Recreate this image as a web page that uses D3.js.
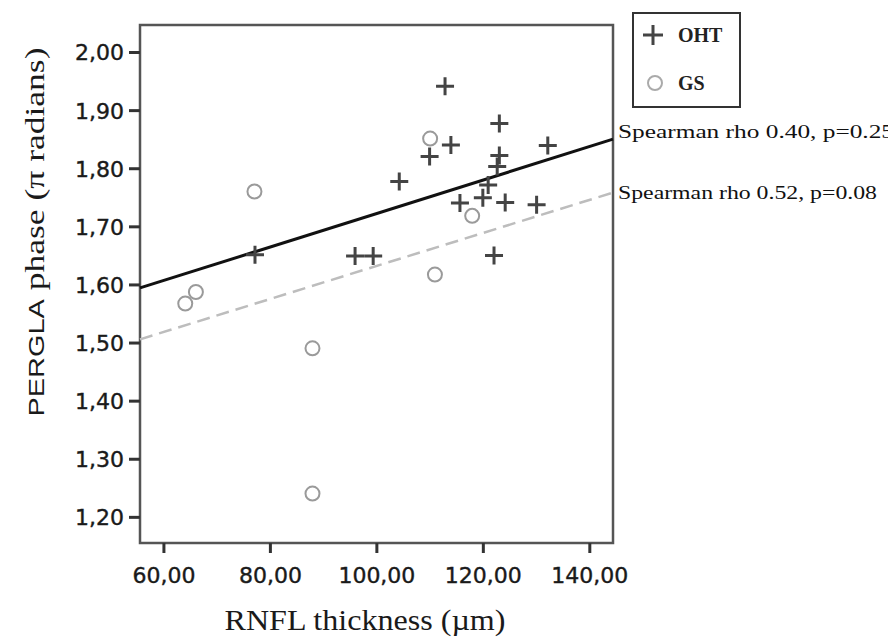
<!DOCTYPE html>
<html>
<head>
<meta charset="utf-8">
<script src="https://cdn.jsdelivr.net/npm/d3@7"></script>
<style>
  html, body { margin: 0; padding: 0; background: #fff; }
  svg { display: block; }
</style>
</head>
<body>
<script>
// ---- data ----
const ohtX = [112.9, 123.1, 114.0, 110.0, 123.1, 132.2, 122.7, 104.3, 121.0, 120.0, 115.7, 124.2, 130.1, 77.2, 96.0, 99.4, 122.1];
const ohtY = [1.941, 1.877, 1.840, 1.820, 1.822, 1.839, 1.803, 1.777, 1.771, 1.749, 1.740, 1.741, 1.737, 1.651, 1.649, 1.649, 1.650];
const gsX = [110.1, 77.1, 118.0, 111.0, 66.1, 64.1, 88.0, 88.0];
const gsY = [1.851, 1.760, 1.718, 1.617, 1.587, 1.567, 1.490, 1.240];
const fitOhtX = [55.6, 144.45];
const fitOhtY = [1.594, 1.850];
const fitGsX = [55.6, 144.45];
const fitGsY = [1.5055, 1.758];
const xTicks = [60, 80, 100, 120, 140];
const yTicks = [1.2, 1.3, 1.4, 1.5, 1.6, 1.7, 1.8, 1.9, 2.0];
const legendLabels = ["OHT", "GS"];
const annotations = ["Spearman rho 0.40, p=0.25", "Spearman rho 0.52, p=0.08"];
const xTitle = "RNFL thickness (µm)";
const yTitleA = "PERGLA";
const yTitleB = " phase (π radians)";

// ---- layout ----
const W = 888, H = 639;
const L = 140, R = 613, T = 25, B = 543;

const svg = d3.select("body").append("svg").attr("width", W).attr("height", H);

const x = d3.scaleLinear().domain([55.6, 144.45]).range([L, R]);
const y = d3.scaleLinear().domain([1.155, 2.0465]).range([B, T]);
const fmt = v => d3.format(".2f")(v).replace(".", ",");

// frame
svg.append("rect").attr("x", L).attr("y", T).attr("width", R - L).attr("height", B - T)
  .attr("fill", "none").attr("stroke", "#555").attr("stroke-width", 2.5);

// axes
const yAxis = svg.append("g").attr("transform", `translate(${L},0)`)
  .call(d3.axisLeft(y).tickValues(yTicks).tickFormat(fmt).tickSize(11).tickPadding(5));
const xAxis = svg.append("g").attr("transform", `translate(0,${B})`)
  .call(d3.axisBottom(x).tickValues(xTicks).tickFormat(fmt).tickSize(10).tickPadding(14));
[yAxis, xAxis].forEach(g => {
  g.select(".domain").remove();
  g.selectAll(".tick line").attr("stroke", "#333").attr("stroke-width", 3);
  g.selectAll(".tick text").attr("fill", "#1a1a1a")
    .style("font-family", "'DejaVu Sans', sans-serif").style("font-size", "22px")
    .attr("stroke", "#1a1a1a").attr("stroke-width", 0.4);
});
yAxis.selectAll(".tick text").attr("dy", "0.36em");
xAxis.selectAll(".tick text").attr("dy", "0.71em");

// fit lines
const line = d3.line().x(d => x(d[0])).y(d => y(d[1]));
svg.append("path").datum(d3.zip(fitGsX, fitGsY)).attr("d", line)
  .attr("fill", "none").attr("stroke", "#bdbdbd").attr("stroke-width", 2.5)
  .attr("stroke-dasharray", "13,7");
svg.append("path").datum(d3.zip(fitOhtX, fitOhtY)).attr("d", line)
  .attr("fill", "none").attr("stroke", "#111").attr("stroke-width", 3);

// GS circles
svg.append("g").selectAll("circle").data(d3.zip(gsX, gsY)).join("circle")
  .attr("cx", d => x(d[0])).attr("cy", d => y(d[1])).attr("r", 7)
  .attr("fill", "none").attr("stroke", "#9a9a9a").attr("stroke-width", 2);

// OHT crosses
const cross = svg.append("g").selectAll("path").data(d3.zip(ohtX, ohtY)).join("path")
  .attr("d", d => {
    const cx = x(d[0]), cy = y(d[1]), a = 9;
    return `M${cx - a},${cy}H${cx + a}M${cx},${cy - a}V${cy + a}`;
  })
  .attr("stroke", "#444").attr("stroke-width", 3).attr("fill", "none");

// legend
svg.append("rect").attr("x", 633).attr("y", 13).attr("width", 107).attr("height", 94)
  .attr("fill", "#fff").attr("stroke", "#333").attr("stroke-width", 2);
svg.append("path").attr("d", "M643,35H663M653,25V45")
  .attr("stroke", "#444").attr("stroke-width", 3);
svg.append("circle").attr("cx", 655).attr("cy", 83).attr("r", 7)
  .attr("fill", "none").attr("stroke", "#aaa").attr("stroke-width", 2);
svg.selectAll(".leg").data(legendLabels).join("text")
  .attr("x", 678).attr("y", (d, i) => 42 + i * 48)
  .text(d => d)
  .style("font-family", "'Liberation Serif', 'Times New Roman', serif")
  .style("font-size", "20px").style("font-weight", "bold").attr("fill", "#222");

// annotations
svg.selectAll(".ann").data(annotations).join("text")
  .attr("x", 618).attr("y", (d, i) => i === 0 ? 138 : 199)
  .attr("textLength", (d, i) => i === 0 ? 276 : 259)
  .attr("lengthAdjust", "spacingAndGlyphs")
  .text(d => d)
  .style("font-family", "'Liberation Serif', 'Times New Roman', serif")
  .style("font-size", "19px").attr("fill", "#111");

// x title
svg.append("text").attr("x", 365).attr("y", 630).attr("text-anchor", "middle")
  .attr("textLength", 281).attr("lengthAdjust", "spacingAndGlyphs")
  .text(xTitle)
  .style("font-family", "'Liberation Serif', 'Times New Roman', serif")
  .style("font-size", "29px").attr("fill", "#1a1a1a");

// y title
const yt = svg.append("text").attr("transform", "translate(44,232) rotate(-90)")
  .attr("text-anchor", "middle").attr("textLength", 369).attr("lengthAdjust", "spacingAndGlyphs")
  .attr("fill", "#1a1a1a");
yt.append("tspan").text(yTitleA)
  .style("font-family", "'Liberation Sans', Arial, sans-serif").style("font-size", "22px");
yt.append("tspan").text(yTitleB)
  .style("font-family", "'Liberation Serif', 'Times New Roman', serif").style("font-size", "27px");
</script>
</body>
</html>
